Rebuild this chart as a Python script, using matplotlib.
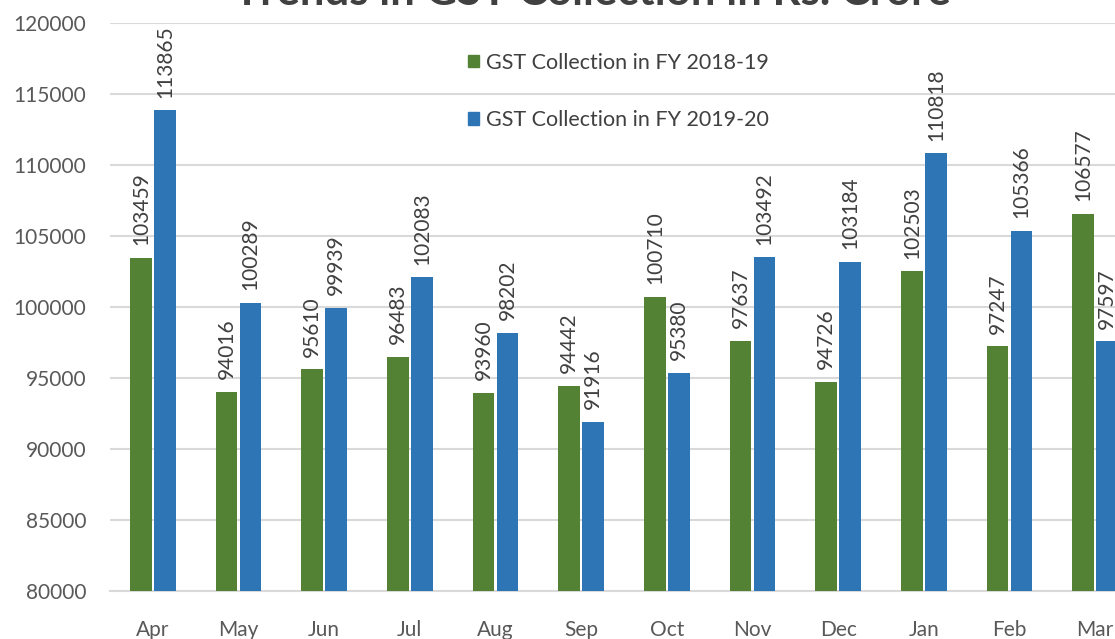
import matplotlib
matplotlib.use("Agg")
import matplotlib.pyplot as plt
import numpy as np
from matplotlib.patches import Patch

months = ["Apr", "May", "Jun", "Jul", "Aug", "Sep", "Oct", "Nov", "Dec", "Jan", "Feb", "Mar"]
fy1819 = [103459, 94016, 95610, 96483, 93960, 94442, 100710, 97637, 94726, 102503, 97247, 106577]
fy1920 = [113865, 100289, 99939, 102083, 98202, 91916, 95380, 103492, 103184, 110818, 105366, 97597]
series_names = ["GST Collection in FY 2018-19", "GST Collection in FY 2019-20"]
title = "Trends in GST Collection in Rs. Crore"
yticks = [80000, 85000, 90000, 95000, 100000, 105000, 110000, 115000, 120000]

GREEN = "#548235"
BLUE = "#2E75B6"
GRID = "#D9D9D9"
TXT = "#595959"

plt.rcParams['font.family'] = ['Lato', 'DejaVu Sans']

W, H = 1115, 639
fig = plt.figure(figsize=(W / 100, H / 100), dpi=100)
left_px, right_px, top_px, bot_px = 110, 1138, 23, 591
ax = fig.add_axes([left_px / W, 1 - bot_px / H, (right_px - left_px) / W, (bot_px - top_px) / H])

x = np.arange(len(months))
bw = 0.25
off = 0.14
b1 = ax.bar(x - off, fy1819, bw, color=GREEN, zorder=3)
b2 = ax.bar(x + off, fy1920, bw, color=BLUE, zorder=3)

for bars, vals in ((b1, fy1819), (b2, fy1920)):
    for rect, v in zip(bars, vals):
        ax.annotate(str(v), (rect.get_x() + rect.get_width() / 2, v),
                    xytext=(0, 9), textcoords="offset points",
                    rotation=90, ha="center", va="bottom",
                    fontsize=15, color="#404040", zorder=4)

ax.set_xlim(-0.5, len(months) - 0.5)
ax.set_ylim(80000, 120000)
ax.set_yticks(yticks)
ax.set_yticklabels([str(t) for t in yticks], fontsize=15, color=TXT)
ax.set_xticks(x)
ax.set_xticklabels(months, fontsize=15, color=TXT)
ax.tick_params(axis="y", length=0, pad=17)
ax.tick_params(axis="x", length=0, pad=21)
ax.grid(axis="y", color=GRID, linewidth=1.5, zorder=0)
for s in ["top", "right", "left"]:
    ax.spines[s].set_visible(False)
ax.spines["bottom"].set_color(GRID)
ax.spines["bottom"].set_linewidth(1.5)
ax.spines["bottom"].set_zorder(1)

handles = [Patch(color=GREEN), Patch(color=BLUE)]
fig.legend(handles, series_names, loc="upper left",
           bbox_to_anchor=(468 / W, 1 - 53 / H), frameon=False,
           fontsize=15.5, labelcolor="#404040", labelspacing=1.72,
           handlelength=0.5, handleheight=0.5, handletextpad=0.35,
           borderpad=0, borderaxespad=0)

fig.text(592 / W, 1 - 5 / H, title, ha="center", va="baseline",
         fontsize=31.5, fontweight="bold", color="#404040")

fig.savefig("out.png", dpi=100)
